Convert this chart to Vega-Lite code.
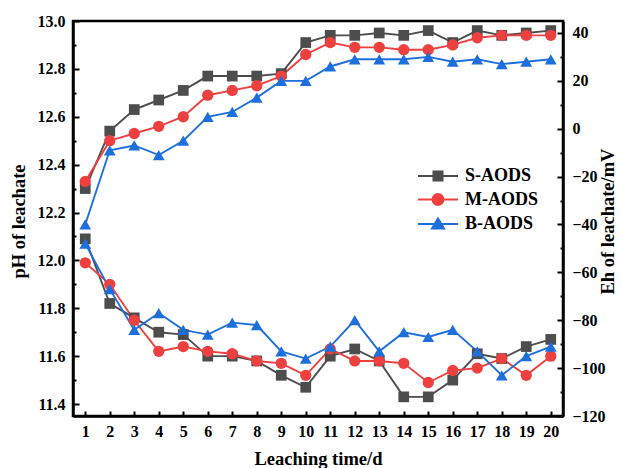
{
  "$schema": "https://vega.github.io/schema/vega-lite/v6.json",
  "width": 490,
  "height": 395,
  "autosize": "none",
  "padding": {"left": 73, "top": 21, "right": 59, "bottom": 52},
  "background": "white",
  "config": {
    "view": {"stroke": "black", "strokeWidth": 2.5},
    "font": "Liberation Serif",
    "axis": {
      "grid": false,
      "labelFont": "Liberation Serif",
      "labelFontWeight": "bold",
      "labelFontSize": 16,
      "labelColor": "black",
      "titleFont": "Liberation Serif",
      "titleFontWeight": "bold",
      "titleFontSize": 18.5,
      "titleColor": "black",
      "domainColor": "black",
      "domainWidth": 2.5,
      "tickColor": "black",
      "tickWidth": 2
    }
  },
  "data": {
    "values": [
      {"day": 1, "series": "S-AODS", "pH": 12.09, "Eh": -25},
      {"day": 2, "series": "S-AODS", "pH": 11.82, "Eh": -1},
      {"day": 3, "series": "S-AODS", "pH": 11.76, "Eh": 8},
      {"day": 4, "series": "S-AODS", "pH": 11.70, "Eh": 12},
      {"day": 5, "series": "S-AODS", "pH": 11.69, "Eh": 16},
      {"day": 6, "series": "S-AODS", "pH": 11.60, "Eh": 22},
      {"day": 7, "series": "S-AODS", "pH": 11.60, "Eh": 22},
      {"day": 8, "series": "S-AODS", "pH": 11.58, "Eh": 22},
      {"day": 9, "series": "S-AODS", "pH": 11.52, "Eh": 23},
      {"day": 10, "series": "S-AODS", "pH": 11.47, "Eh": 36},
      {"day": 11, "series": "S-AODS", "pH": 11.60, "Eh": 39},
      {"day": 12, "series": "S-AODS", "pH": 11.63, "Eh": 39},
      {"day": 13, "series": "S-AODS", "pH": 11.58, "Eh": 40},
      {"day": 14, "series": "S-AODS", "pH": 11.43, "Eh": 39},
      {"day": 15, "series": "S-AODS", "pH": 11.43, "Eh": 41},
      {"day": 16, "series": "S-AODS", "pH": 11.50, "Eh": 36},
      {"day": 17, "series": "S-AODS", "pH": 11.61, "Eh": 41},
      {"day": 18, "series": "S-AODS", "pH": 11.59, "Eh": 39},
      {"day": 19, "series": "S-AODS", "pH": 11.64, "Eh": 40},
      {"day": 20, "series": "S-AODS", "pH": 11.67, "Eh": 41},
      {"day": 1, "series": "M-AODS", "pH": 11.99, "Eh": -22},
      {"day": 2, "series": "M-AODS", "pH": 11.90, "Eh": -5},
      {"day": 3, "series": "M-AODS", "pH": 11.75, "Eh": -2},
      {"day": 4, "series": "M-AODS", "pH": 11.62, "Eh": 1},
      {"day": 5, "series": "M-AODS", "pH": 11.64, "Eh": 5},
      {"day": 6, "series": "M-AODS", "pH": 11.62, "Eh": 14},
      {"day": 7, "series": "M-AODS", "pH": 11.61, "Eh": 16},
      {"day": 8, "series": "M-AODS", "pH": 11.58, "Eh": 18},
      {"day": 9, "series": "M-AODS", "pH": 11.57, "Eh": 22},
      {"day": 10, "series": "M-AODS", "pH": 11.52, "Eh": 31},
      {"day": 11, "series": "M-AODS", "pH": 11.63, "Eh": 36},
      {"day": 12, "series": "M-AODS", "pH": 11.58, "Eh": 34},
      {"day": 13, "series": "M-AODS", "pH": 11.58, "Eh": 34},
      {"day": 14, "series": "M-AODS", "pH": 11.57, "Eh": 33},
      {"day": 15, "series": "M-AODS", "pH": 11.49, "Eh": 33},
      {"day": 16, "series": "M-AODS", "pH": 11.54, "Eh": 35},
      {"day": 17, "series": "M-AODS", "pH": 11.55, "Eh": 38},
      {"day": 18, "series": "M-AODS", "pH": 11.59, "Eh": 39},
      {"day": 19, "series": "M-AODS", "pH": 11.52, "Eh": 39},
      {"day": 20, "series": "M-AODS", "pH": 11.60, "Eh": 39},
      {"day": 1, "series": "B-AODS", "pH": 12.07, "Eh": -40},
      {"day": 2, "series": "B-AODS", "pH": 11.88, "Eh": -9},
      {"day": 3, "series": "B-AODS", "pH": 11.71, "Eh": -7},
      {"day": 4, "series": "B-AODS", "pH": 11.78, "Eh": -11},
      {"day": 5, "series": "B-AODS", "pH": 11.71, "Eh": -5},
      {"day": 6, "series": "B-AODS", "pH": 11.69, "Eh": 5},
      {"day": 7, "series": "B-AODS", "pH": 11.74, "Eh": 7},
      {"day": 8, "series": "B-AODS", "pH": 11.73, "Eh": 13},
      {"day": 9, "series": "B-AODS", "pH": 11.62, "Eh": 20},
      {"day": 10, "series": "B-AODS", "pH": 11.59, "Eh": 20},
      {"day": 11, "series": "B-AODS", "pH": 11.64, "Eh": 26},
      {"day": 12, "series": "B-AODS", "pH": 11.75, "Eh": 29},
      {"day": 13, "series": "B-AODS", "pH": 11.62, "Eh": 29},
      {"day": 14, "series": "B-AODS", "pH": 11.70, "Eh": 29},
      {"day": 15, "series": "B-AODS", "pH": 11.68, "Eh": 30},
      {"day": 16, "series": "B-AODS", "pH": 11.71, "Eh": 28},
      {"day": 17, "series": "B-AODS", "pH": 11.62, "Eh": 29},
      {"day": 18, "series": "B-AODS", "pH": 11.52, "Eh": 27},
      {"day": 19, "series": "B-AODS", "pH": 11.60, "Eh": 28},
      {"day": 20, "series": "B-AODS", "pH": 11.64, "Eh": 29}
    ]
  },
  "encoding": {
    "x": {
      "field": "day",
      "type": "quantitative",
      "scale": {"domain": [0.5, 20.5], "nice": false, "zero": false},
      "axis": {
        "title": "Leaching time/d",
        "values": [1,2,3,4,5,6,7,8,9,10,11,12,13,14,15,16,17,18,19,20],
        "tickSize": -5,
        "labelPadding": 12,
        "titleY": 42,
        "titleBaseline": "middle"
      }
    }
  },
  "layer": [
    {
      "encoding": {
        "y": {
          "field": "pH",
          "type": "quantitative",
          "scale": {"domain": [11.35, 13.0], "nice": false, "zero": false},
          "axis": {
            "orient": "left",
            "title": "pH of leachate",
            "values": [11.4,11.5,11.6,11.7,11.8,11.9,12.0,12.1,12.2,12.3,12.4,12.5,12.6,12.7,12.8,12.9,13.0],
            "labelExpr": "round(datum.value*10) % 2 == 0 ? format(datum.value, '.1f') : ''",
            "tickSize": {"condition": {"test": "round(datum.value*10) % 2 == 0", "value": -6}, "value": -3},
            "labelPadding": 14,
            "titleX": -55,
            "titleY": 200,
            "titleAngle": -90,
            "titleAlign": "center",
            "titleBaseline": "middle"
          }
        }
      },
      "layer": [
        {
          "mark": {"type": "line", "strokeWidth": 1.9},
          "encoding": {
            "color": {"field": "series", "type": "nominal", "scale": {"domain": ["S-AODS", "M-AODS", "B-AODS"], "range": ["#4d4d4d", "#ef4040", "#1e6fde"]}, "legend": null},
            "detail": {"field": "series"}
          }
        },
        {
          "mark": {"type": "point", "filled": true, "opacity": 1},
          "encoding": {
            "color": {"field": "series", "type": "nominal", "scale": {"domain": ["S-AODS", "M-AODS", "B-AODS"], "range": ["#4d4d4d", "#ef4040", "#1e6fde"]}, "legend": null},
            "shape": {"field": "series", "type": "nominal", "scale": {"domain": ["S-AODS", "M-AODS", "B-AODS"], "range": ["square", "circle", "triangle-up"]}, "legend": null},
            "size": {"field": "series", "type": "nominal", "scale": {"domain": ["S-AODS", "M-AODS", "B-AODS"], "range": [115, 140, 125]}, "legend": null}
          }
        },
        {
          "data": {"values": [{"t": "pH"}]},
          "mark": {"type": "text", "font": "Liberation Serif", "fontWeight": "bold", "fontSize": 20, "color": "black"},
          "encoding": {
            "x": {"datum": 6.9, "type": "quantitative"},
            "y": {"datum": 11.796, "type": "quantitative"},
            "text": {"field": "t"}
          }
        }
      ]
    },
    {
      "encoding": {
        "y": {
          "field": "Eh",
          "type": "quantitative",
          "scale": {"domain": [-120, 45], "nice": false, "zero": false},
          "axis": {
            "orient": "right",
            "title": "Eh of leachate/mV",
            "values": [-120,-110,-100,-90,-80,-70,-60,-50,-40,-30,-20,-10,0,10,20,30,40],
            "labelExpr": "datum.value % 20 == 0 ? datum.label : ''",
            "tickSize": {"condition": {"test": "datum.value % 20 == 0", "value": -6}, "value": -3},
            "labelPadding": 15,
            "titleX": 44,
            "titleY": 200,
            "titleAngle": -90,
            "titleAlign": "center",
            "titleBaseline": "middle"
          }
        }
      },
      "layer": [
        {
          "mark": {"type": "line", "strokeWidth": 1.9},
          "encoding": {
            "color": {"field": "series", "type": "nominal", "scale": {"domain": ["S-AODS", "M-AODS", "B-AODS"], "range": ["#4d4d4d", "#ef4040", "#1e6fde"]}, "legend": null},
            "detail": {"field": "series"}
          }
        },
        {
          "mark": {"type": "point", "filled": true, "opacity": 1},
          "encoding": {
            "color": {"field": "series", "type": "nominal", "scale": {"domain": ["S-AODS", "M-AODS", "B-AODS"], "range": ["#4d4d4d", "#ef4040", "#1e6fde"]}, "legend": null},
            "shape": {"field": "series", "type": "nominal", "scale": {"domain": ["S-AODS", "M-AODS", "B-AODS"], "range": ["square", "circle", "triangle-up"]}, "legend": null},
            "size": {"field": "series", "type": "nominal", "scale": {"domain": ["S-AODS", "M-AODS", "B-AODS"], "range": [115, 140, 125]}, "legend": null}
          }
        },
        {
          "data": {"values": [{"t": "Eh"}]},
          "mark": {"type": "text", "font": "Liberation Serif", "fontWeight": "bold", "fontSize": 20, "color": "black"},
          "encoding": {
            "x": {"datum": 3.83, "type": "quantitative"},
            "y": {"datum": 28.5, "type": "quantitative"},
            "text": {"field": "t"}
          }
        }
      ]
    },
    {
      "mark": {"type": "point", "filled": true, "opacity": 0, "size": 400, "strokeWidth": 2},
      "encoding": {
        "color": {"field": "series", "type": "nominal", "scale": {"domain": ["S-AODS", "M-AODS", "B-AODS"], "range": ["#4d4d4d", "#ef4040", "#1e6fde"]},
          "legend": {
            "title": null,
            "orient": "none",
            "legendX": 354,
            "legendY": 144,
            "padding": 0,
            "symbolSize": 400,
            "labelFont": "Liberation Serif",
            "labelFontWeight": "bold",
            "labelFontSize": 18,
            "labelColor": "black",
            "labelOffset": 16,
            "rowPadding": 3.5,
            "encode": {
              "symbols": {
                "update": {
                  "opacity": {"value": 1},
                  "strokeWidth": {"value": 2},
                  "fill": {"signal": "datum.value == 'S-AODS' ? '#4d4d4d' : datum.value == 'M-AODS' ? '#ef4040' : '#1e6fde'"},
                  "stroke": {"signal": "datum.value == 'S-AODS' ? '#4d4d4d' : datum.value == 'M-AODS' ? '#ef4040' : '#1e6fde'"}
                }
              }
            }
          }
        },
        "shape": {"field": "series", "type": "nominal", "scale": {"domain": ["S-AODS", "M-AODS", "B-AODS"], "range": [
          "M-2,0H2M-0.45,-0.45H0.45V0.45H-0.45Z",
          "M-2,0H2M0.55,0A0.55,0.55,0,1,1,-0.55,0A0.55,0.55,0,1,1,0.55,0Z",
          "M-2,0H2M0,-0.55L0.6,0.45L-0.6,0.45Z"
        ]},
          "legend": {
            "title": null,
            "orient": "none",
            "legendX": 354,
            "legendY": 144,
            "padding": 0,
            "symbolSize": 400,
            "labelFont": "Liberation Serif",
            "labelFontWeight": "bold",
            "labelFontSize": 18,
            "labelColor": "black",
            "labelOffset": 16,
            "rowPadding": 3.5
          }
        }
      }
    }
  ],
  "resolve": {"scale": {"y": "independent", "shape": "independent", "color": "independent", "size": "independent"}}
}
